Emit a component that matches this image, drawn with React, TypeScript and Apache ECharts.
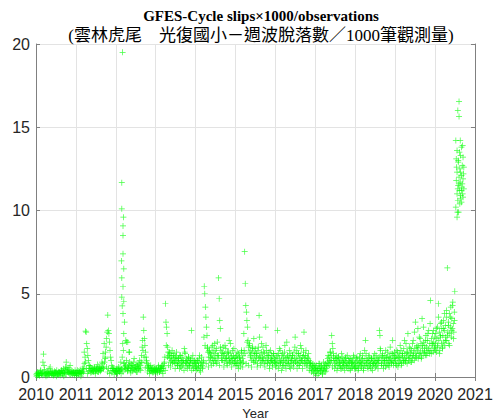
import React, { useEffect, useRef } from "react";
import * as echarts from "echarts";

// Cycle slips per 1000 observations (roughly 5-day steps)
const v2010 = [0.15,0.2,0.1,0.25,0.18,0.3,0.12,0.22,0.35,0.2,0.15,0.28,0.9,1.38,0.7,0.45,0.3,0.2,0.15,0.25,0.1,0.3,0.2,0.18,0.12,0.25,0.3,0.15,0.2,0.35,0.22,0.1,0.28,0.2,0.15,0.3,0.25,0.4,0.2,0.15,0.32,0.25,0.18,0.3,0.22,0.4,0.28,0.2,0.35,0.5,0.3,0.25,0.45,0.6,0.9,0.55,0.4,0.3,0.25,0.35,0.2,0.3,0.15,0.28,0.22,0.35,0.18,0.25,0.3,0.2,0.4,0.25];
const v2011 = [0.2,0.3,0.25,0.15,0.35,0.2,0.3,0.4,0.25,0.3,0.2,0.35,0.5,0.3,0.45,0.8,1.2,2.75,2.7,2.0,1.7,1.3,1.0,0.7,0.5,0.4,0.6,0.3,0.45,0.35,0.5,0.4,0.3,0.55,0.45,0.35,0.6,0.4,0.5,0.3,0.45,0.65,0.4,0.5,0.35,0.6,0.45,0.55,0.8,0.5,0.6,0.9,1.2,1.5,1.8,2.3,2.7,3.72,2.8,2.6,2.1,1.6,1.2,1.0,0.7,0.5,0.6,0.4,0.5,0.35,0.45,0.3];
const v2012 = [0.3,0.4,0.25,0.5,0.35,0.45,0.3,0.55,0.4,0.2,0.5,1.2,2.0,1.6,0.8,0.6,0.45,0.7,0.5,2.1,0.6,0.4,0.75,0.5,1.5,0.65,0.4,0.8,0.55,0.35,0.7,0.5,0.9,0.45,0.6,0.4,0.75,0.55,0.3,0.65,0.5,0.8,0.6,0.45,0.7,0.9,1.3,1.8,2.2,3.6,2.8,2.3,1.9,1.5,1.2,1.0,0.8,0.6,0.7,0.5,0.4,0.6,0.35,0.5,0.45,0.3,0.55,0.4,0.3,0.5,0.35,0.45];
const v2013 = [0.3,0.5,0.4,0.35,0.6,0.45,0.3,0.55,0.4,0.6,0.5,0.35,0.7,0.5,0.6,0.9,1.2,4.4,3.3,3.0,2.6,1.8,1.5,1.3,1.1,1.4,0.9,1.2,1.0,1.6,0.8,1.1,1.3,0.9,1.0,1.2,0.8,1.5,1.0,0.7,0.9,1.1,0.8,1.3,0.6,1.0,0.9,1.2,0.7,1.0,0.8,1.7,1.5,0.9,0.6,1.1,0.8,1.0,0.7,1.2,0.9,0.6,1.0,0.8,2.8,1.1,0.7,0.9,0.5,1.0,0.8,0.6];
const v2014 = [0.8,0.6,1.0,0.5,0.9,0.7,1.1,0.4,0.8,0.6,1.2,0.7,0.5,0.9,1.0,5.45,5.0,4.2,3.6,3.0,2.5,1.8,1.5,1.2,1.6,1.0,1.4,0.9,1.3,1.8,1.1,1.5,0.8,1.2,2.0,1.0,1.4,1.7,0.9,1.3,1.1,5.95,4.7,3.4,2.9,1.6,1.2,1.5,1.0,1.8,1.3,0.9,1.4,1.1,1.7,1.2,0.8,1.5,1.0,1.3,2.2,1.1,0.9,1.4,1.2,1.0,1.6,0.8,1.3,1.1,0.9,1.2];
const v2015 = [1.0,1.3,0.8,1.1,0.7,1.4,0.9,1.2,0.6,1.0,1.5,0.8,1.1,1.3,0.9,1.6,7.53,5.6,4.3,3.9,3.4,3.0,2.2,1.8,1.5,2.0,1.2,1.6,1.0,1.4,1.8,1.1,0.9,1.5,1.3,1.7,1.0,1.2,1.4,0.8,1.6,1.1,3.7,2.4,1.3,1.0,1.5,0.9,1.2,1.8,1.1,0.8,1.4,1.0,3.0,1.6,1.2,0.9,1.3,1.0,1.5,0.7,1.1,0.9,1.3,1.0,0.8,1.2,1.4,0.9,1.1,0.7];
const v2016 = [1.0,0.8,1.2,2.8,0.9,1.4,0.7,1.1,1.6,0.8,1.0,1.3,0.6,0.9,1.2,1.0,1.5,0.7,1.1,0.9,2.1,1.3,0.8,1.0,1.2,0.6,1.4,0.9,1.1,0.7,1.3,1.0,0.8,1.5,1.1,2.4,0.9,1.2,1.6,0.8,1.0,1.4,0.7,1.1,1.3,0.9,1.7,1.0,1.2,0.8,1.5,2.7,1.1,0.9,1.3,1.0,0.7,1.2,0.9,1.4,1.0,0.8,0.6,0.9,0.5,0.7,0.4,0.8,0.6,0.3,0.7,0.5];
const v2017 = [0.6,0.3,0.7,0.4,0.5,0.2,0.8,0.5,0.3,0.6,0.4,0.7,0.2,0.5,0.9,0.4,0.6,0.3,0.8,0.5,0.7,0.9,1.1,0.8,1.2,1.0,1.5,0.9,1.3,2.5,2.0,1.7,1.2,1.0,0.8,1.1,0.7,1.3,0.9,1.0,0.6,1.2,0.8,0.9,1.1,0.7,1.0,0.5,0.9,1.2,0.8,0.6,1.0,0.7,1.1,0.9,0.6,1.3,0.8,1.0,0.7,0.9,0.5,1.1,0.8,0.6,1.0,0.9,0.7,1.2,0.8,0.6];
const v2018 = [0.9,0.6,1.1,0.7,1.0,0.5,0.8,1.2,0.7,0.9,0.6,1.0,0.8,1.3,0.5,0.9,0.7,1.1,2.2,1.4,0.8,1.0,0.6,0.9,1.2,0.7,1.0,0.8,0.5,1.1,0.9,0.7,1.2,0.8,1.0,0.6,0.9,1.3,0.7,1.1,0.8,1.0,0.9,2.8,2.5,1.6,1.2,0.8,1.0,1.4,0.7,1.1,0.9,1.3,0.6,1.0,1.2,0.8,1.5,1.0,0.7,1.2,0.9,1.1,1.4,0.8,1.0,2.2,1.3,0.9,1.1,1.2];
const v2019 = [1.0,1.3,0.7,1.1,1.5,0.8,1.2,0.9,1.4,1.0,1.6,0.8,1.2,1.3,0.9,1.7,1.1,1.4,1.0,2.0,1.2,0.8,1.5,1.3,1.0,1.8,1.2,1.4,0.9,1.6,1.3,1.1,2.2,1.5,1.0,1.7,3.3,1.4,1.2,1.9,1.6,1.1,1.8,2.4,1.3,1.5,2.0,1.2,3.5,1.7,1.4,2.1,1.6,1.9,1.3,2.5,1.8,1.5,2.2,1.7,2.8,1.4,2.0,4.6,1.6,2.3,1.9,2.6,1.5,2.1,1.8,2.4];
const v2020 = [2.0,2.6,1.5,2.3,3.0,1.8,4.4,2.2,2.7,1.6,2.4,3.2,2.0,2.9,1.7,2.5,3.4,2.1,2.8,1.9,3.1,2.4,3.6,2.2,6.55,2.7,3.3,2.0,3.8,2.6,3.0,4.2,2.4,3.5,2.9,4.5,3.2,2.7,3.9,5.15];

// a second, offset pass over the low band (the daily cloud is thick)
const w2010 = [0.05,0.3,0.12,0.08,0.4,0.2,0.1,0.3,0.15,0.05,0.25,0.35,0.5,0.6,0.3,0.15,0.1,0.35,0.25,0.05,0.2,0.15,0.3,0.1,0.4,0.2,0.05,0.25,0.15,0.3,0.45,0.55,0.7,0.35,0.2,0.3,0.1,0.25];
const w2011 = [0.1,0.4,0.2,0.3,0.05,0.25,0.6,1.5,0.9,0.5,0.2,0.35,0.7,0.25,0.5,0.3,0.6,0.2,0.45,0.75,0.3,0.55,0.4,0.9,1.4,2.0,1.1,0.6,0.3,0.5,0.2,0.4,0.25,0.5,0.15,0.35];
const w2012 = [0.5,0.2,0.6,0.35,0.9,0.45,0.3,0.85,0.6,1.0,0.35,0.55,0.9,0.25,0.7,0.45,1.1,0.6,0.3,0.75,0.5,1.0,0.4,0.85,1.6,1.2,0.55,0.9,0.3,0.6,0.2,0.7,0.4,0.25,0.6,0.35];
const w2013 = [0.45,0.25,0.7,0.3,0.5,0.65,0.2,0.8,0.4,1.9,1.2,0.7,1.5,0.6,1.3,0.9,1.4,0.5,1.2,0.7,1.1,0.5,1.3,0.6,1.0,0.4,1.4,0.9,0.5,1.2,0.7,1.0,0.4,1.3,0.6,0.9];
const w2014 = [0.4,1.0,0.6,1.3,0.3,0.9,0.6,2.4,1.9,0.8,1.7,0.6,1.5,1.2,0.7,1.9,1.0,1.6,0.8,2.1,1.3,0.7,1.8,1.0,1.4,0.6,1.9,1.1,0.7,1.5,0.9,2.0,0.6,1.1,1.7,0.8];
const w2015 = [0.7,1.5,0.5,1.2,0.9,1.6,0.6,2.6,1.4,0.8,2.1,0.7,1.9,1.3,0.6,1.7,2.3,0.9,1.4,0.6,1.8,1.2,0.7,2.0,1.0,1.5,0.6,1.9,0.8,1.3,0.5,1.6,1.0,0.6,1.4,0.9];
const w2016 = [0.6,1.3,0.5,1.7,0.9,0.4,1.4,0.7,1.9,0.5,1.2,0.8,1.6,0.5,1.0,1.3,0.6,1.8,0.9,0.5,1.4,0.7,1.9,1.0,0.5,1.3,0.8,1.6,0.6,1.1,0.4,0.8,0.3,0.6,0.2,0.45];
const w2017 = [0.4,0.1,0.5,0.8,0.3,0.6,0.15,0.45,0.7,0.35,0.6,1.3,0.7,1.5,1.0,0.6,1.4,0.5,1.1,0.4,1.2,0.7,0.5,1.4,0.6,0.9,0.4,1.2,0.7,0.5,1.1,0.4,0.9,0.6,1.3,0.5];
const w2018 = [0.5,1.2,0.4,0.9,1.4,0.6,1.1,0.4,1.6,0.7,1.0,0.5,1.3,0.6,1.1,0.4,0.8,1.4,0.6,1.0,0.5,1.2,1.7,0.7,1.3,0.5,1.0,1.6,0.7,1.2,0.6,1.8,0.9,1.4,0.7,1.5];
const w2019 = [0.8,1.6,0.6,1.2,1.9,0.7,1.4,1.0,2.2,0.9,1.5,2.6,1.1,1.7,0.9,2.0,1.3,2.7,1.2,1.8,2.9,1.4,2.3,1.1,1.9,3.0,1.5,2.2,1.3,2.6,1.6,3.2,1.4,2.0,2.8,1.7];
const w2020 = [1.6,2.9,1.9,3.6,1.4,2.5,3.3,1.8,2.9,3.8,2.2,4.0,2.5,3.1,1.9,3.6,2.8,4.3,2.3,3.4];

// [decimal year, value] points read individually
const spike2012 = [[2012.17,19.5],[2012.15,11.67],[2012.15,10.1],[2012.19,9.6],[2012.18,9.07],[2012.18,8.5],[2012.18,7.4],[2012.14,6.97],[2012.2,6.5],[2012.15,5.95],[2012.18,5.42],[2012.15,4.8],[2012.2,4.55],[2012.16,4.27],[2012.18,3.8],[2012.22,3.3],[2012.2,2.6],[2012.25,2.2],[2012.3,2.1],[2012.33,1.5]];
const cluster2020 = [[2020.60,16.55],[2020.57,16.0],[2020.60,15.65],[2020.52,14.2],[2020.63,14.2],[2020.55,13.6],[2020.66,13.8],[2020.64,13.3],[2020.70,13.2],[2020.58,12.9],[2020.68,12.7],[2020.62,12.5],[2020.55,12.3],[2020.72,12.6],[2020.60,12.0],[2020.66,12.1],[2020.53,11.8],[2020.63,11.7],[2020.70,11.9],[2020.58,11.5],[2020.67,11.4],[2020.61,11.2],[2020.55,11.0],[2020.72,11.3],[2020.64,10.9],[2020.69,11.0],[2020.57,10.6],[2020.62,10.4],[2020.52,10.2],[2020.66,10.5],[2020.59,9.9],[2020.55,9.6],[2020.70,10.8],[2020.64,12.3],[2020.58,13.0],[2020.68,11.6],[2020.54,12.6],[2020.61,13.5],[2020.66,11.2],[2020.57,11.3],[2020.71,12.2],[2020.63,10.7],[2020.60,11.6],[2020.53,13.1],[2020.69,13.9],[2020.56,9.9]];

const yearBlocks = [
  { start: 2010, span: 1, values: v2010 },
  { start: 2011, span: 1, values: v2011 },
  { start: 2012, span: 1, values: v2012 },
  { start: 2013, span: 1, values: v2013 },
  { start: 2014, span: 1, values: v2014 },
  { start: 2015, span: 1, values: v2015 },
  { start: 2016, span: 1, values: v2016 },
  { start: 2017, span: 1, values: v2017 },
  { start: 2018, span: 1, values: v2018 },
  { start: 2019, span: 1, values: v2019 },
  { start: 2020, span: 0.5, values: v2020 },
  { start: 2010, span: 1, values: w2010 },
  { start: 2011, span: 1, values: w2011 },
  { start: 2012, span: 1, values: w2012 },
  { start: 2013, span: 1, values: w2013 },
  { start: 2014, span: 1, values: w2014 },
  { start: 2015, span: 1, values: w2015 },
  { start: 2016, span: 1, values: w2016 },
  { start: 2017, span: 1, values: w2017 },
  { start: 2018, span: 1, values: w2018 },
  { start: 2019, span: 1, values: w2019 },
  { start: 2020, span: 0.5, values: w2020 },
];

const TITLE = "GFES-Cycle slips×1000/observations";
const SUBTITLE = "(雲林虎尾　光復國小－週波脫落數／1000筆觀測量)";
const X_NAME = "Year";

const PLUS = "path://M4.4,0H5.6V4.4H10V5.6H5.6V10H4.4V5.6H0V4.4H4.4Z";

export default function App() {
  const ref = useRef<HTMLDivElement>(null);
  useEffect(() => {
    if (!ref.current) return;
    const chart = echarts.init(ref.current, undefined, { renderer: "svg" });
    const data: number[][] = [];
    yearBlocks.forEach((b) => {
      b.values.forEach((v, i) => {
        data.push([b.start + (b.span * (i + 0.5)) / b.values.length, v]);
      });
    });
    spike2012.forEach((p) => data.push(p));
    cluster2020.forEach((p) => data.push(p));

    const axisColor = "#808080";
    const labelColor = "#262626";
    const sans = "'Liberation Sans', Arial, Helvetica, sans-serif";
    chart.setOption({
      animation: false,
      backgroundColor: "#ffffff",
      title: [
        {
          text: TITLE,
          left: 256,
          top: 3,
          textAlign: "center",
          textStyle: { fontFamily: "'Liberation Serif', 'Times New Roman', serif", fontWeight: "bold", fontSize: 15, color: "#000" },
        },
        {
          text: SUBTITLE,
          left: 256,
          top: 22,
          textAlign: "center",
          textStyle: { fontFamily: "'Liberation Serif', 'Noto Sans CJK TC', serif", fontWeight: "normal", fontSize: 17, color: "#000" },
        },
      ],
      grid: { left: 36, right: 21, top: 44, bottom: 43, containLabel: false, outerBoundsMode: "none", show: false },
      xAxis: [
        {
          type: "value",
          min: 2010,
          max: 2021,
          interval: 1,
          name: X_NAME,
          nameLocation: "middle",
          nameGap: 28,
          nameTextStyle: { fontFamily: sans, fontSize: 13, color: labelColor },
          axisLine: { show: true, lineStyle: { color: axisColor, width: 1 } },
          axisTick: { show: true, inside: true, length: 4, lineStyle: { color: axisColor } },
          axisLabel: { fontFamily: sans, fontSize: 16, color: labelColor, margin: 9, formatter: (v: number) => String(v) },
          splitLine: { show: true, lineStyle: { color: "#e3e3e3", width: 1 } },
        },
        {
          type: "value",
          position: "top",
          min: 2010,
          max: 2021,
          interval: 1,
          axisLine: { show: true, lineStyle: { color: axisColor, width: 1 } },
          axisTick: { show: true, inside: true, length: 4, lineStyle: { color: axisColor } },
          axisLabel: { show: false },
          splitLine: { show: false },
        },
      ],
      yAxis: [
        {
          type: "value",
          min: 0,
          max: 20,
          interval: 5,
          axisLine: { show: true, lineStyle: { color: axisColor, width: 1 } },
          axisTick: { show: true, inside: true, length: 4, lineStyle: { color: axisColor } },
          axisLabel: { fontFamily: sans, fontSize: 16, color: labelColor, margin: 6 },
          splitLine: { show: true, lineStyle: { color: "#e3e3e3", width: 1 } },
        },
        {
          type: "value",
          position: "right",
          min: 0,
          max: 20,
          interval: 5,
          axisLine: { show: true, lineStyle: { color: axisColor, width: 1 } },
          axisTick: { show: true, inside: true, length: 4, lineStyle: { color: axisColor } },
          axisLabel: { show: false },
          splitLine: { show: false },
        },
      ],
      series: [
        {
          type: "scatter",
          xAxisIndex: 0,
          yAxisIndex: 0,
          symbol: PLUS,
          symbolSize: 6,
          itemStyle: { color: "#00ff00", opacity: 0.75 },
          data,
          z: 3,
        },
      ],
    });
    return () => chart.dispose();
  }, []);
  return <div ref={ref} style={{ position: "fixed", left: 0, top: 0, width: 496, height: 420 }} />;
}
